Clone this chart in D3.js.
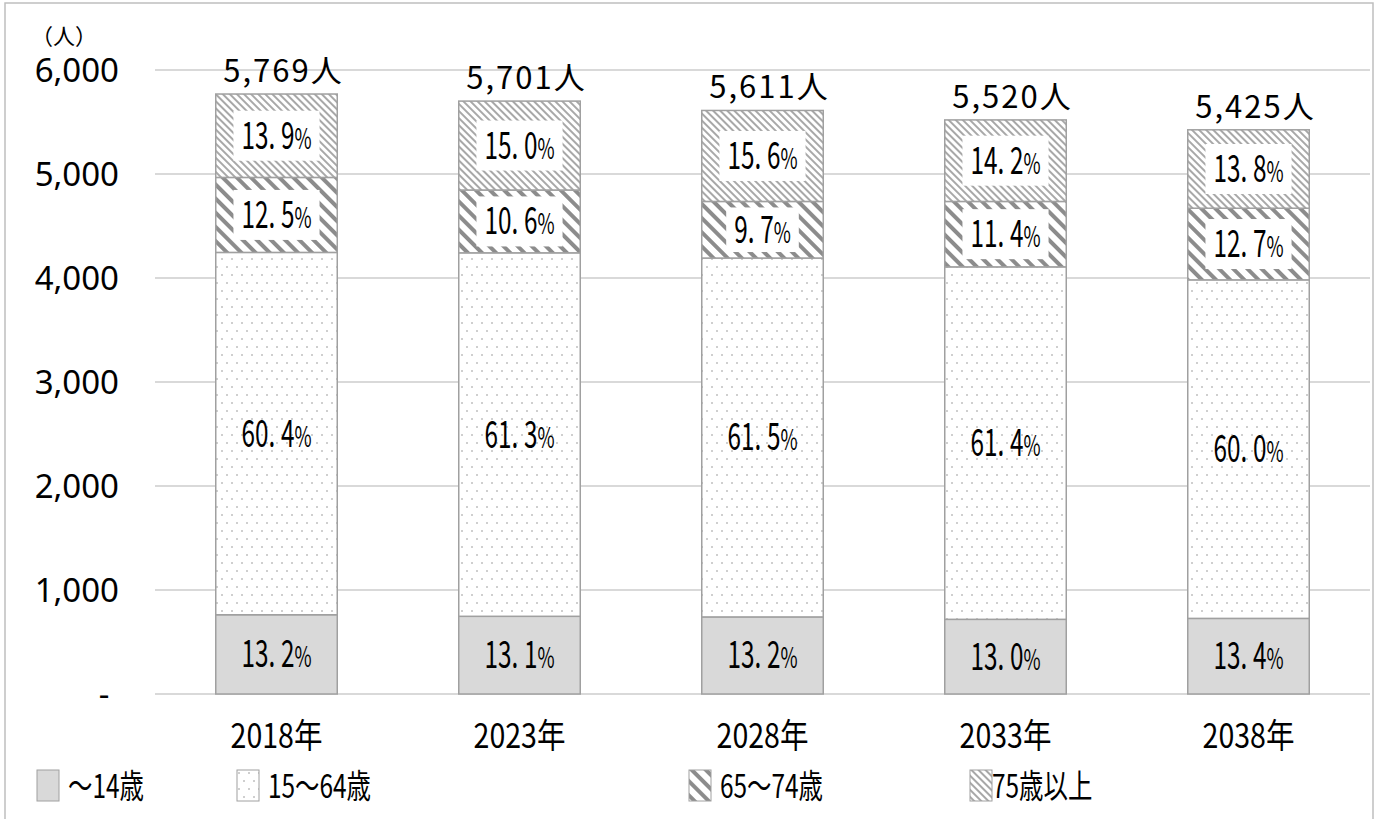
<!DOCTYPE html>
<html>
<head>
<meta charset="utf-8">
<script src="https://cdn.jsdelivr.net/npm/d3@7"></script>
<style>
  body { margin: 0; background: #fff; }
  svg { display: block; }
</style>
</head>
<body>
<div id="chart"></div>
<script>
// data
const years = ['2018年', '2023年', '2028年', '2033年', '2038年'];
const groups = ['～14歳', '15～64歳', '65～74歳', '75歳以上'];
const under15 = [762, 747, 741, 718, 727];
const age15to64 = [3484, 3495, 3451, 3389, 3255];
const age65to74 = [721, 604, 544, 629, 689];
const age75plus = [802, 855, 875, 784, 754];
const totals = ['5,769人', '5,701人', '5,611人', '5,520人', '5,425人'];
const pctUnder15 = ['13.2', '13.1', '13.2', '13.0', '13.4'];
const pct15to64 = ['60.4', '61.3', '61.5', '61.4', '60.0'];
const pct65to74 = ['12.5', '10.6', '9.7', '11.4', '12.7'];
const pct75plus = ['13.9', '15.0', '15.6', '14.2', '13.8'];
const yTicks = [0, 1000, 2000, 3000, 4000, 5000, 6000];

const width = 1380, height = 819;
const svg = d3.select('#chart').append('svg')
    .attr('width', width)
    .attr('height', height);

// patterns
const defs = svg.append('defs');
const dots = defs.append('pattern')
    .attr('id', 'dots').attr('patternUnits', 'userSpaceOnUse')
    .attr('width', 10).attr('height', 16);
dots.append('rect').attr('width', 10).attr('height', 16).attr('fill', '#fff');
[[2, 3], [7, 11]].forEach(p => {
    dots.append('rect').attr('x', p[0] - 1).attr('y', p[1] - 0.5)
        .attr('width', 2).attr('height', 1).attr('fill', '#b0b0b0');
    dots.append('rect').attr('x', p[0] - 0.5).attr('y', p[1] - 1)
        .attr('width', 1).attr('height', 2).attr('fill', '#c8c8c8');
});

const wide = defs.append('pattern')
    .attr('id', 'wide').attr('patternUnits', 'userSpaceOnUse')
    .attr('width', 10).attr('height', 10)
    .attr('patternTransform', 'rotate(-45)');
wide.append('rect').attr('width', 10).attr('height', 10).attr('fill', '#fff');
wide.append('rect').attr('width', 4).attr('height', 10).attr('fill', '#8c8c8c');

const narrow = defs.append('pattern')
    .attr('id', 'narrow').attr('patternUnits', 'userSpaceOnUse')
    .attr('width', 5).attr('height', 5)
    .attr('patternTransform', 'rotate(-45)');
narrow.append('rect').attr('width', 5).attr('height', 5).attr('fill', '#fff');
narrow.append('rect').attr('width', 2).attr('height', 5).attr('fill', '#a8a8a8');

const fills = ['#d9d9d9', 'url(#dots)', 'url(#wide)', 'url(#narrow)'];

// outer frame (bottom edge lies below the picture)
svg.append('path')
    .attr('d', 'M5,819V3H1373V819')
    .attr('fill', 'none').attr('stroke', '#bfbfbf').attr('stroke-width', 1.5);

const margins = { top: 70, right: 10, bottom: 124, left: 155 };
const innerWidth = width - margins.left - margins.right;

const x = d3.scaleBand()
    .domain(years)
    .range([margins.left, margins.left + innerWidth])
    .paddingInner(0.5)
    .paddingOuter(0.25);

const y = d3.scaleLinear()
    .domain([0, 6000])
    .range([height - margins.bottom - 1, margins.top]);

// gridlines
svg.append('g')
    .selectAll('line')
    .data(yTicks)
    .join('line')
    .attr('x1', margins.left).attr('x2', margins.left + innerWidth)
    .attr('y1', d => y(d)).attr('y2', d => y(d))
    .attr('stroke', '#d9d9d9').attr('stroke-width', 2);

// y axis labels
const fmt = d3.format(',');
svg.append('g')
    .selectAll('text')
    .data(yTicks)
    .join('text')
    .attr('x', d => d === 0 ? 104 : 119)
    .attr('y', d => y(d) + 12)
    .attr('text-anchor', d => d === 0 ? 'middle' : 'end')
    .attr('font-family', '"Noto Sans", sans-serif')
    .attr('font-size', 33)
    .attr('fill', '#000')
    .text(d => d === 0 ? '-' : fmt(d));

svg.append('text')
    .attr('x', 64).attr('y', 44)
    .attr('text-anchor', 'middle')
    .attr('font-family', '"Noto Sans CJK JP", sans-serif')
    .attr('font-size', 22)
    .text('（人）');

// stacked data
const table = years.map((yr, i) => ({
    year: yr,
    [groups[0]]: under15[i],
    [groups[1]]: age15to64[i],
    [groups[2]]: age65to74[i],
    [groups[3]]: age75plus[i],
}));
const pcts = [pctUnder15, pct15to64, pct65to74, pct75plus];
const series = d3.stack().keys(groups)(table);

const layers = svg.append('g')
    .selectAll('g')
    .data(series)
    .join('g')
    .attr('fill', (_, i) => fills[i]);

layers.selectAll('rect')
    .data(d => d)
    .join('rect')
    .attr('x', d => x(d.data.year))
    .attr('width', x.bandwidth())
    .attr('y', d => y(d[1]))
    .attr('height', d => y(d[0]) - y(d[1]))
    .attr('stroke', '#a0a0a0')
    .attr('stroke-width', 1.5);

// percentage labels
const labelFont = '"Noto Sans CJK JP", sans-serif';
const sx = 0.64;
series.forEach((s, si) => {
    s.forEach((d, i) => {
        const cx = x(d.data.year) + x.bandwidth() / 2;
        const cy = (y(d[0]) + y(d[1])) / 2;
        const segH = y(d[0]) - y(d[1]);
        const g = svg.append('g');
        const t = g.append('text')
            .attr('transform', `translate(${cx},${cy + 13}) scale(${sx},1)`)
            .attr('text-anchor', 'middle')
            .attr('font-family', labelFont)
            .attr('font-size', 38)
            .attr('fill', '#000');
        const parts = pcts[si][i].split('.');
        t.append('tspan').text(parts[0] + '.');
        t.append('tspan').attr('dx', 9).text(parts[1]);
        t.append('tspan').attr('font-size', 29).text('%');
        if (si >= 2) {
            const w = t.node().getBBox().width * sx + 16;
            const h = Math.min(50, segH - 12);
            g.insert('rect', 'text')
                .attr('x', cx - w / 2).attr('y', cy - h / 2)
                .attr('width', w).attr('height', h)
                .attr('fill', '#fff');
        }
    });
});

// totals above bars
svg.append('g')
    .selectAll('text')
    .data(table)
    .join('text')
    .attr('x', (d, i) => x(d.year) + x.bandwidth() / 2 + 7)
    .attr('y', (d, i) => y(d3.sum(groups, k => d[k])) - 12)
    .attr('text-anchor', 'middle')
    .attr('font-family', '"Noto Sans CJK JP", sans-serif')
    .attr('font-size', 31)
    .attr('letter-spacing', 2)
    .text((d, i) => totals[i]);

// x axis labels
svg.append('g')
    .selectAll('text')
    .data(years)
    .join('text')
    .attr('transform', d => `translate(${x(d) + x.bandwidth() / 2},${748}) scale(0.84,1)`)
    .attr('text-anchor', 'middle')
    .attr('font-family', '"Noto Sans CJK JP", sans-serif')
    .attr('font-size', 34)
    .text(d => d);

// legend
const legendX = [37, 237, 689, 970];
const legend = svg.append('g')
    .selectAll('g')
    .data(groups)
    .join('g')
    .attr('transform', (d, i) => `translate(${legendX[i]},770)`);
legend.append('rect')
    .attr('width', 22).attr('height', 31)
    .attr('fill', (d, i) => fills[i])
    .attr('stroke', '#a0a0a0').attr('stroke-width', 1);
legend.append('text')
    .attr('transform', (d, i) => `translate(${i === 3 ? 22 : 31},28) scale(0.74,1)`)
    .attr('font-family', '"Noto Sans CJK JP", sans-serif')
    .attr('font-size', 33)
    .text(d => d);
</script>
</body>
</html>
